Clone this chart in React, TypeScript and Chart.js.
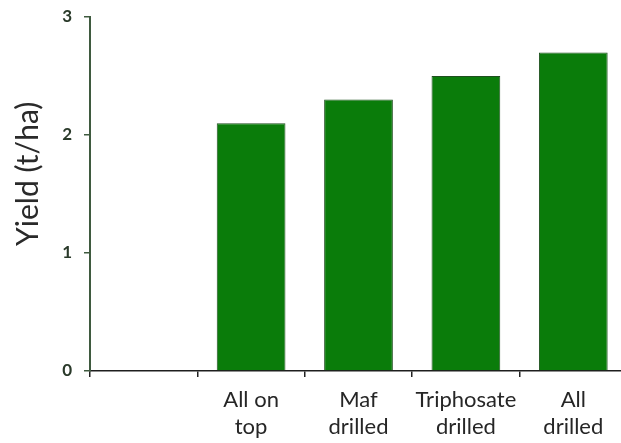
import React, { useEffect, useRef } from "react";
import { Chart, registerables } from "chart.js";

Chart.register(...registerables);

const categories: (string | string[])[] = ["", ["All on", "top"], ["Maf", "drilled"], ["Triphosate", "drilled"], ["All", "drilled"]];
const yieldValues: (number | null)[] = [null, 2.1, 2.3, 2.5, 2.7];
const yTicks = [0, 1, 2, 3];
const yTitle = "Yield (t/ha)";

const yTitlePlugin = {
  id: "yTitlePlugin",
  afterDraw(chart: any) {
    const { ctx, chartArea } = chart;
    const cy = chartArea.top + 0.443 * (chartArea.bottom - chartArea.top);
    ctx.save();
    ctx.translate(28, cy);
    ctx.rotate(-Math.PI / 2);
    ctx.font = "30px Lato";
    ctx.fillStyle = "#2a2a2a";
    ctx.textAlign = "center";
    ctx.textBaseline = "middle";
    ctx.fillText(yTitle, 0, 0);
    ctx.restore();
  },
};

export default function App() {
  const ref = useRef<HTMLCanvasElement | null>(null);
  useEffect(() => {
    if (!ref.current) return;
    const chart = new Chart(ref.current, {
      type: "bar",
      data: {
        labels: categories,
        datasets: [
          {
            data: yieldValues,
            backgroundColor: "#0a7c0a",
            borderColor: "#1f4f1f",
            borderWidth: 1,
            categoryPercentage: 1,
            barPercentage: 0.64,
          },
        ],
      },
      plugins: [yTitlePlugin],
      options: {
        animation: false,
        responsive: false,
        devicePixelRatio: 1,
        layout: { padding: { top: 17, right: 23, left: 0, bottom: 0 } },
        plugins: { legend: { display: false }, tooltip: { enabled: false } },
        scales: {
          x: {
            offset: true,
            grid: {
              offset: true,
              drawOnChartArea: false,
              drawTicks: true,
              tickLength: 6,
              color: "#222",
              lineWidth: 1.5,
            },
            border: { display: true, color: "#1e1e1e", width: 1.5 },
            ticks: {
              color: "#262626",
              font: { family: "Lato", size: 22, lineHeight: 1.25 },
              padding: 9,
              maxRotation: 0,
              autoSkip: false,
            },
            afterFit: (s: any) => {
              s.height = 72;
            },
          },
          y: {
            min: 0,
            max: 3,
            afterBuildTicks: (s: any) => {
              s.ticks = yTicks.map((v) => ({ value: v }));
            },
            grid: {
              drawOnChartArea: false,
              drawTicks: true,
              tickLength: 6,
              color: "#3f5a3f",
              lineWidth: 1.5,
            },
            border: { display: true, color: "#3f5a3f", width: 2 },
            ticks: {
              color: "#2a3a2a",
              font: { family: "Lato", size: 17, weight: "bold" },
              padding: 12,
            },
            afterFit: (s: any) => {
              s.width = 90;
              s.paddingTop = 0;
              s.paddingBottom = 0;
            },
          },
        },
      },
    });
    return () => chart.destroy();
  }, []);
  return (
    <div style={{ position: "fixed", left: 0, top: 0, width: 621, height: 443, overflow: "hidden", background: "#fff" }}>
      <canvas ref={ref} width={650} height={443} style={{ display: "block" }} />
    </div>
  );
}
